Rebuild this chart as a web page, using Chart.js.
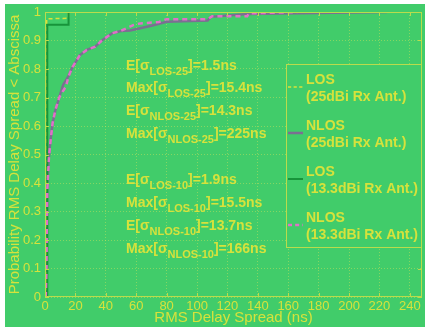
<!DOCTYPE html>
<html>
<head>
<meta charset="utf-8">
<script src="https://cdn.jsdelivr.net/npm/chart.js@4/dist/chart.umd.min.js"></script>
<style>
html, body { margin: 0; padding: 0; background: #fff; }
canvas { display: block; }
</style>
</head>
<body>
<canvas id="cdfChart" width="425" height="327"></canvas>
<script>
// values
const xTicks = [0, 20, 40, 60, 80, 100, 120, 140, 160, 180, 200, 220, 240];
const yTicks = [0, 0.1, 0.2, 0.3, 0.4, 0.5, 0.6, 0.7, 0.8, 0.9, 1];

const los25X = [1.1, 1.1, 15.4, 15.4];
const los25Y = [0, 0.976, 0.978, 1];

const nlos25X = [0.5, 1.0, 1.3, 1.6, 2.4, 3.6, 5.0, 6.8, 8.8, 10.5, 12, 15.4, 18.2, 23, 27.5, 33, 37.4, 44, 50, 56, 62.6, 70, 80, 107, 109, 133, 166, 225];
const nlos25Y = [0, 0.1, 0.3, 0.4, 0.48, 0.55, 0.61, 0.655, 0.69, 0.72, 0.745, 0.775, 0.808, 0.849, 0.867, 0.878, 0.9, 0.925, 0.933, 0.935, 0.943, 0.952, 0.966, 0.97, 0.983, 0.993, 0.996, 1];

const los10X = [1.5, 1.5, 15.5, 15.5];
const los10Y = [0, 0.955, 0.955, 1];

const nlos10X = [0.5, 1.0, 1.2, 1.5, 2.6, 3.7, 5.0, 6.8, 9.4, 11.5, 13.8, 15.4, 18.2, 23, 27.5, 33, 37.4, 44, 50, 58, 62.6, 75, 80, 107, 110, 133, 134, 166];
const nlos10Y = [0, 0.1, 0.26, 0.375, 0.49, 0.55, 0.61, 0.656, 0.7, 0.72, 0.738, 0.773, 0.808, 0.849, 0.867, 0.878, 0.9, 0.925, 0.934, 0.954, 0.96, 0.965, 0.975, 0.975, 0.985, 0.985, 0.995, 1];

const seriesNames = [
  ['LOS', '(25dBi Rx Ant.)'],
  ['NLOS', '(25dBi Rx Ant.)'],
  ['LOS', '(13.3dBi Rx Ant.)'],
  ['NLOS', '(13.3dBi Rx Ant.)']
];

const stats = [
  ['E[σ', 'LOS-25', ']=1.5ns'],
  ['Max[σ', 'LOS-25', ']=15.4ns'],
  ['E[σ', 'NLOS-25', ']=14.3ns'],
  ['Max[σ', 'NLOS-25', ']=225ns'],
  null,
  ['E[σ', 'LOS-10', ']=1.9ns'],
  ['Max[σ', 'LOS-10', ']=15.5ns'],
  ['E[σ', 'NLOS-10', ']=13.7ns'],
  ['Max[σ', 'NLOS-10', ']=166ns']
];

const BG = '#41cc6a';
const TXT = '#d6e23c';
const AXIS = '#b9dc4c';
const GRID = 'rgba(200,225,90,0.5)';
const FONT = "'Liberation Sans', Arial, sans-serif";

const styles = [
  { color: '#d8e23a', dash: [4, 3], width: 1.5 },
  { color: '#7b6f92', dash: [], width: 2.5 },
  { color: '#17943a', dash: [], width: 2 },
  { color: '#e070c8', dash: [5, 4], width: 2.5 }
];

function pts(xs, ys) {
  return xs.map((x, i) => ({ x: x, y: ys[i] }));
}

function mkSet(i, xs, ys, order) {
  return {
    label: seriesNames[i].join(' '),
    data: pts(xs, ys),
    showLine: true,
    borderColor: styles[i].color,
    borderDash: styles[i].dash,
    borderWidth: styles[i].width,
    pointRadius: 0,
    fill: false,
    tension: 0,
    order: order
  };
}

const framePlugin = {
  id: 'frame',
  beforeDraw(chart) {
    const ctx = chart.ctx;
    ctx.save();
    ctx.fillStyle = '#fff';
    ctx.fillRect(0, 0, chart.width, chart.height);
    ctx.fillStyle = BG;
    ctx.fillRect(5, 4, chart.width - 5, chart.height - 4);
    ctx.restore();
  },
  afterDatasetsDraw(chart) {
    const ctx = chart.ctx;
    const a = chart.chartArea;
    const xs = chart.scales.x, ys = chart.scales.y;
    ctx.save();
    // axes box and inner ticks
    ctx.strokeStyle = AXIS;
    ctx.lineWidth = 1;
    ctx.strokeRect(a.left + 0.5, a.top + 0.5, a.right - a.left - 1, a.bottom - a.top - 1);
    ctx.beginPath();
    xTicks.forEach(v => {
      const p = Math.round(xs.getPixelForValue(v)) + 0.5;
      ctx.moveTo(p, a.bottom); ctx.lineTo(p, a.bottom - 4);
      ctx.moveTo(p, a.top); ctx.lineTo(p, a.top + 4);
    });
    yTicks.forEach(v => {
      const p = Math.round(ys.getPixelForValue(v)) + 0.5;
      ctx.moveTo(a.left, p); ctx.lineTo(a.left + 4, p);
      ctx.moveTo(a.right, p); ctx.lineTo(a.right - 4, p);
    });
    ctx.stroke();

    // statistics text
    ctx.fillStyle = TXT;
    ctx.textBaseline = 'alphabetic';
    let y = a.top + 57.5;
    stats.forEach(s => {
      if (s) {
        let x = a.left + 81;
        ctx.font = 'bold 14px ' + FONT;
        ctx.fillText(s[0], x, y);
        x += ctx.measureText(s[0]).width;
        ctx.font = 'bold 11px ' + FONT;
        ctx.fillText(s[1], x, y + 5);
        x += ctx.measureText(s[1]).width;
        ctx.font = 'bold 14px ' + FONT;
        ctx.fillText(s[2], x, y);
      }
      y += 22.9;
    });

    // legend
    const lx = 286, ly = 64, lw = a.right - lx, lh = 184;
    ctx.fillStyle = BG;
    ctx.fillRect(lx, ly, lw, lh);
    ctx.strokeStyle = AXIS;
    ctx.strokeRect(lx + 0.5, ly + 0.5, lw - 1, lh - 1);
    seriesNames.forEach((n, i) => {
      const base = ly + 20 + i * 46;
      ctx.strokeStyle = styles[i].color;
      ctx.lineWidth = styles[i].width;
      ctx.setLineDash(styles[i].dash.map(d => d * 0.8));
      ctx.beginPath();
      ctx.moveTo(lx + 2, base + 3);
      ctx.lineTo(lx + 17, base + 3);
      ctx.stroke();
      ctx.setLineDash([]);
      ctx.fillStyle = TXT;
      ctx.font = 'bold 14px ' + FONT;
      ctx.fillText(n[0], lx + 20, base);
      ctx.fillText(n[1], lx + 20, base + 16.5);
    });
    ctx.restore();
  }
};

const ctx = document.getElementById('cdfChart').getContext('2d');
new Chart(ctx, {
  type: 'scatter',
  data: {
    datasets: [
      mkSet(0, los25X, los25Y, 2),
      mkSet(1, nlos25X, nlos25Y, 3),
      mkSet(2, los10X, los10Y, 1),
      mkSet(3, nlos10X, nlos10Y, 0)
    ]
  },
  options: {
    responsive: false,
    animation: false,
    devicePixelRatio: 1,
    layout: { padding: { left: 5, top: 12, right: 3, bottom: 0 } },
    plugins: { legend: { display: false }, tooltip: { enabled: false } },
    scales: {
      x: {
        type: 'linear',
        min: 0,
        max: 248,
        afterFit: s => { s.height = 30; },
        afterBuildTicks: s => { s.ticks = xTicks.map(v => ({ value: v })); },
        ticks: { color: TXT, font: { family: FONT, size: 13 }, padding: 2, maxRotation: 0, includeBounds: false },
        grid: { color: GRID, drawTicks: false, tickLength: 0 },
        border: { display: false, dash: [1, 2] },
        title: { display: true, text: 'RMS Delay Spread (ns)', color: TXT, font: { family: FONT, size: 15 }, padding: 0 }
      },
      y: {
        min: 0,
        max: 1,
        afterFit: s => { s.width = 40; },
        afterBuildTicks: s => { s.ticks = yTicks.map(v => ({ value: v })); },
        ticks: {
          color: TXT, font: { family: FONT, size: 13 }, padding: 4,
          callback: v => String(Math.round(v * 10) / 10)
        },
        grid: { color: GRID, drawTicks: false, tickLength: 0 },
        border: { display: false, dash: [1, 2] },
        title: { display: true, text: 'Probability RMS Delay Spread < Abscissa', color: TXT, font: { family: FONT, size: 15 }, padding: { top: 1, bottom: 0 } }
      }
    }
  },
  plugins: [framePlugin]
});
</script>
</body>
</html>
